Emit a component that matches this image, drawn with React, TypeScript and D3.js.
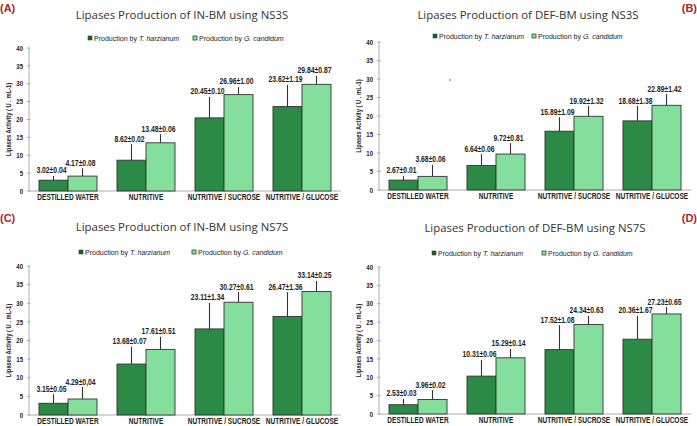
import * as d3 from "d3";

const categories = ["DESTILLED WATER", "NUTRITIVE", "NUTRITIVE / SUCROSE", "NUTRITIVE / GLUCOSE"];
const yTicks = [0, 5, 10, 15, 20, 25, 30, 35, 40];

// panel A - IN-BM / NS3S
const aHarz = [3.02, 8.62, 20.45, 23.62];
const aCand = [4.17, 13.48, 26.96, 29.84];
const aHarzTop = [4.2, 13.1, 26.3, 29.7];
const aCandTop = [6.4, 15.9, 29.1, 32.2];
const aHarzLabels = ["3.02±0.04", "8.62±0.02", "20.45±0.10", "23.62±1.19"];
const aCandLabels = ["4.17±0.08", "13.48±0.06", "26.96±1.00", "29.84±0.87"];

// panel B - DEF-BM / NS3S
const bHarz = [2.67, 6.64, 15.89, 18.68];
const bCand = [3.68, 9.72, 19.92, 22.89];
const bHarzTop = [3.8, 9.7, 19.7, 22.7];
const bCandTop = [6.8, 12.7, 22.7, 25.9];
const bHarzLabels = ["2.67±0.01", "6.64±0.06", "15.89±1.09", "18.68±1.38"];
const bCandLabels = ["3.68±0.06", "9.72±0.81", "19.92±1.32", "22.89±1.42"];

// panel C - IN-BM / NS7S
const cHarz = [3.15, 13.68, 23.11, 26.47];
const cCand = [4.29, 17.61, 30.27, 33.14];
const cHarzTop = [5.6, 18.3, 30.1, 33.0];
const cCandTop = [7.5, 21.0, 33.0, 36.0];
const cHarzLabels = ["3.15±0.05", "13.68±0.07", "23.11±1.34", "26.47±1.36"];
const cCandLabels = ["4.29±0,04", "17.61±0.51", "30.27±0.61", "33.14±0.25"];

// panel D - DEF-BM / NS7S
const dHarz = [2.53, 10.31, 17.52, 20.36];
const dCand = [3.96, 15.29, 24.34, 27.23];
const dHarzTop = [4.1, 14.7, 24.2, 26.7];
const dCandTop = [6.5, 17.7, 26.7, 29.1];
const dHarzLabels = ["2.53±0.03", "10.31±0.06", "17.52±1.08", "20.36±1.67"];
const dCandLabels = ["3.96±0.02", "15.29±0.14", "24.34±0.63", "27.23±0.65"];

const DARK = "#2b8a45";
const LIGHT = "#84df9c";
const SANS = "'Liberation Sans', Arial, sans-serif";

const panels = [
  {
    tag: "(A)", title: "Lipases Production of IN-BM using NS3S",
    harz: aHarz, cand: aCand, harzTop: aHarzTop, candTop: aCandTop,
    harzLabels: aHarzLabels, candLabels: aCandLabels,
    ox: 0, oy: 0, left: 29, right: 341, y0: 191, y40: 48,
    titleX: 182, titleY: 19, legX: 88, leg2X: 193, legY: 38, tagRight: false,
  },
  {
    tag: "(B)", title: "Lipases Production of DEF-BM using NS3S",
    harz: bHarz, cand: bCand, harzTop: bHarzTop, candTop: bCandTop,
    harzLabels: bHarzLabels, candLabels: bCandLabels,
    ox: 350, oy: 0, left: 29, right: 341, y0: 190, y40: 42,
    titleX: 178, titleY: 19, legX: 83, leg2X: 182, legY: 36, tagRight: true,
  },
  {
    tag: "(C)", title: "Lipases Production of IN-BM using NS7S",
    harz: cHarz, cand: cCand, harzTop: cHarzTop, candTop: cCandTop,
    harzLabels: cHarzLabels, candLabels: cCandLabels,
    ox: 0, oy: 210, left: 29, right: 341, y0: 205, y40: 56,
    titleX: 182, titleY: 21, legX: 79, leg2X: 192, legY: 42, tagRight: false,
  },
  {
    tag: "(D)", title: "Lipases Production of DEF-BM using NS7S",
    harz: dHarz, cand: dCand, harzTop: dHarzTop, candTop: dCandTop,
    harzLabels: dHarzLabels, candLabels: dCandLabels,
    ox: 350, oy: 210, left: 29, right: 341, y0: 204, y40: 57,
    titleX: 185, titleY: 22, legX: 82, leg2X: 192, legY: 43, tagRight: true,
  },
];

// condensed text: Liberation Sans squeezed horizontally (no narrow font installed)
function NText({ x, y, anchor = "start", size, bold = false, sx = 0.8, rotate = 0, children }: any) {
  return (
    <text
      transform={`translate(${x},${y}) rotate(${rotate}) scale(${sx},1)`}
      textAnchor={anchor}
      fontFamily={SANS}
      fontWeight={bold ? "bold" : "normal"}
      fontSize={size}
      fill="#222"
    >
      {children}
    </text>
  );
}

function Panel({ p }: { p: any }) {
  const x = d3
    .scaleBand()
    .domain(categories)
    .range([p.left, p.right])
    .paddingInner(0.256)
    .paddingOuter(0.128);
  const inner = d3.scaleBand().domain(["harz", "cand"]).range([0, x.bandwidth()]);
  const y = d3.scaleLinear().domain([0, 40]).range([p.y0, p.y40]);

  const series = [
    { key: "harz", vals: p.harz, tops: p.harzTop, labels: p.harzLabels, fill: DARK },
    { key: "cand", vals: p.cand, tops: p.candTop, labels: p.candLabels, fill: LIGHT },
  ];

  return (
    <g transform={`translate(${p.ox},${p.oy})`}>
      <text
        x={p.tagRight ? 347 : 0}
        y={12}
        textAnchor={p.tagRight ? "end" : "start"}
        fontFamily={SANS}
        fontWeight="bold"
        fontSize={11}
        fill="#a3262a"
      >
        {p.tag}
      </text>
      <text
        x={p.titleX}
        y={p.titleY}
        textAnchor="middle"
        fontFamily="'Open Sans', sans-serif"
        fontSize={11.4}
        fill="#333"
      >
        {p.title}
      </text>

      {/* legend */}
      <rect x={p.legX} y={p.legY - 2} width={4} height={4} fill="#1d5a2e" stroke="#1d5a2e" strokeWidth={0.6} />
      <NText x={p.legX + 6} y={p.legY + 2.8} size={8} sx={0.88}>
        Production by <tspan fontStyle="italic">T. harzianum</tspan>
      </NText>
      <rect x={p.leg2X} y={p.legY - 2} width={4} height={4} fill={LIGHT} stroke="#1d5a2e" strokeWidth={0.8} />
      <NText x={p.leg2X + 6} y={p.legY + 2.8} size={8} sx={0.88}>
        Production by <tspan fontStyle="italic">G. candidum</tspan>
      </NText>

      {/* axes */}
      <line x1={p.left} x2={p.left} y1={y(40)} y2={y(0)} stroke="#9a9a9a" strokeWidth={0.8} />
      <line x1={p.left} x2={p.right} y1={y(0)} y2={y(0)} stroke="#9a9a9a" strokeWidth={0.8} />
      {yTicks.map((t) => (
        <g key={t}>
          <line x1={p.left - 2} x2={p.left + 1.5} y1={y(t)} y2={y(t)} stroke="#9a9a9a" strokeWidth={0.8} />
          <NText x={p.left - 6} y={y(t) + 2.7} anchor="end" size={7.5} bold>
            {t}
          </NText>
        </g>
      ))}
      <NText x={p.left - 18} y={(y(0) + y(40)) / 2} anchor="middle" size={6.8} bold sx={0.85} rotate={-90}>
        Lipases Activity ( U . mL-1)
      </NText>

      {/* bars, whiskers, labels */}
      {categories.map((c, i) => (
        <g key={c}>
          {series.map((s) => {
            const bx = (x(c) as number) + (inner(s.key) as number);
            const cx = bx + inner.bandwidth() / 2;
            return (
              <g key={s.key}>
                <line x1={cx} x2={cx} y1={y(s.vals[i])} y2={y(s.tops[i])} stroke="#333" strokeWidth={1.1} />
                <rect
                  x={bx}
                  y={y(s.vals[i])}
                  width={inner.bandwidth()}
                  height={y(0) - y(s.vals[i])}
                  fill={s.fill}
                  stroke="#333"
                  strokeWidth={0.9}
                />
                <NText x={cx - 2} y={y(s.tops[i]) - 2.5} anchor="middle" size={8.5} bold>
                  {s.labels[i]}
                </NText>
              </g>
            );
          })}
          <NText x={(x(c) as number) + x.bandwidth() / 2} y={y(0) + 9} anchor="middle" size={8.2} bold>
            {c}
          </NText>
        </g>
      ))}
    </g>
  );
}

export default function App() {
  return (
    <svg
      width={697}
      height={426}
      style={{ position: "absolute", left: 0, top: 0, background: "#fff" }}
    >
      <rect width={697} height={426} fill="#fff" />
      {panels.map((p) => (
        <Panel key={p.tag} p={p} />
      ))}
      <circle cx={450} cy={80} r={0.8} fill="#444" />
    </svg>
  );
}
